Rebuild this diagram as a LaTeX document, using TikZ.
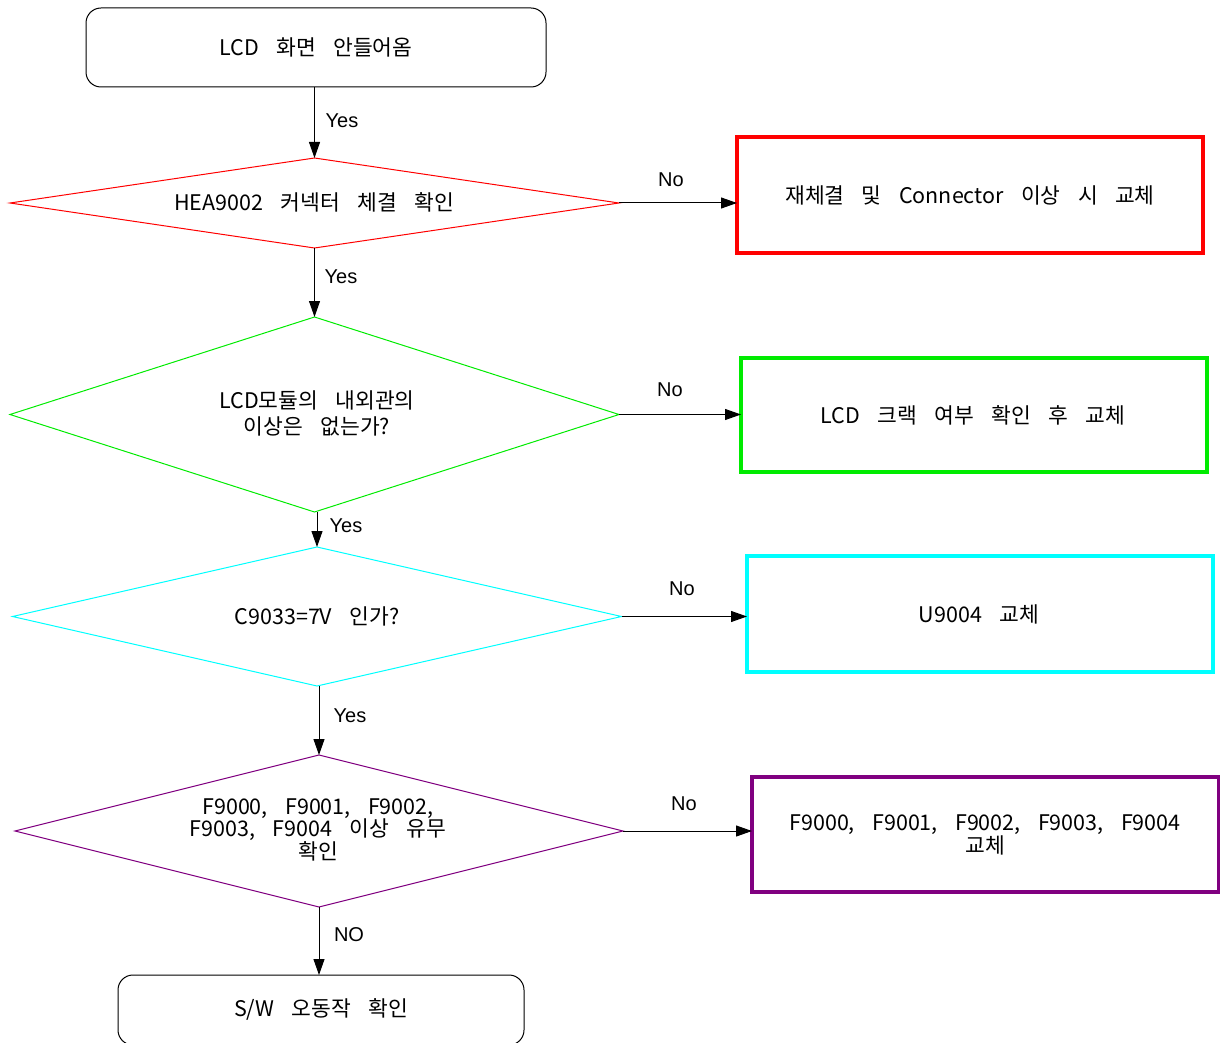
\documentclass[tikz,border=0pt]{standalone}
\usepackage{fontspec}
\setmainfont{Noto Sans CJK KR}[WordSpace=3.6]
\newfontfamily\labelfont{Liberation Sans}
\usetikzlibrary{shapes.geometric,arrows.meta}
\definecolor{cRed}{RGB}{255,0,0}
\definecolor{cGreen}{RGB}{0,235,0}
\definecolor{cCyan}{RGB}{0,255,255}
\definecolor{cPurple}{RGB}{128,0,128}
\begin{document}
\begin{tikzpicture}[x=1pt,y=-1pt,
  every node/.style={font=\fontsize{21.5}{24}\selectfont, inner sep=0pt, outer sep=0pt},
  term/.style={draw=black, line width=1pt, rounded corners=15pt},
  dia/.style={diamond, draw, line width=1pt},
  outbox/.style={draw, line width=3.5pt},
  txt/.style={align=center},
  lbl/.style={font=\labelfont\fontsize{20}{24}\selectfont},
  arr/.style={-{Triangle[length=16pt,width=11pt]}, line width=1pt, draw=black}
]
\useasboundingbox (0,0) rectangle (1220,1043);

% start
\node[term, minimum width=460pt, minimum height=79pt] (start) at (316,47.5) {};
\node[txt] (tstart) at (316,47) {LCD 화면 안들어옴};

% diamond 1
\node[dia, draw=cRed, minimum width=609pt, minimum height=90pt] (d1) at (314.5,203) {};
\node[txt] (t1) at (314,202) {HEA9002 커넥터 체결 확인};
\node[outbox, draw=cRed, minimum width=466pt, minimum height=116pt] (b1) at (970,195) {};
\node[txt] (tb1) at (970,195) {재체결 및 Connector 이상 시 교체};

% diamond 2
\node[dia, draw=cGreen, minimum width=609pt, minimum height=195pt] (d2) at (314.5,414.5) {};
\node[txt, font=\fontsize{21.5}{26}\selectfont] (t2) at (317,413) {LCD모듈의 내외관의\\이상은 없는가?};
\node[outbox, draw=cGreen, minimum width=466pt, minimum height=114pt] (b2) at (974,415) {};
\node[txt] (tb2) at (973,415) {LCD 크랙 여부 확인 후 교체};

% diamond 3
\node[dia, draw=cCyan, minimum width=609pt, minimum height=139pt] (d3) at (317,616.5) {};
\node[txt] (t3) at (317,616) {C9033=7V 인가?};
\node[outbox, draw=cCyan, minimum width=466pt, minimum height=116pt] (b3) at (980,614) {};
\node[txt] (tb3) at (979,614) {U9004 교체};

% diamond 4
\node[dia, draw=cPurple, minimum width=608pt, minimum height=152pt] (d4) at (319,831) {};
\node[txt, font=\fontsize{21.5}{21.5}\selectfont] (t4) at (318,830) {F9000, F9001, F9002,\\F9003, F9004 이상 유무\\확인};
\node[outbox, draw=cPurple, minimum width=467pt, minimum height=115pt] (b4) at (985.5,834.5) {};
\node[txt, font=\fontsize{21.5}{21.5}\selectfont] (tb4) at (985,835) {F9000, F9001, F9002, F9003, F9004\\교체};

% end
\node[term, minimum width=406pt, minimum height=70pt] (finish) at (321,1010) {};
\node[txt] (tfinish) at (321,1009) {S/W 오동작 확인};

% vertical connectors
\draw[arr] (start.south -| d1.north) -- (d1.north);
\draw[arr] (d1.south) -- (d2.north);
\draw[arr] (d3.north |- d2.south) -- (d3.north);
\draw[arr] (d4.north |- d3.south) -- (d4.north);
\draw[arr] (d4.south) -- (finish.north -| d4.south);

% horizontal connectors
\draw[arr] (d1.east) -- (b1.west |- d1.east);
\draw[arr] (d2.east) -- (b2.west |- d2.east);
\draw[arr] (d3.east) -- (b3.west |- d3.east);
\draw[arr] (d4.east) -- (b4.west |- d4.east);

% labels
\node[lbl] (ly1) at (342,121) {Yes};
\node[lbl] (ly2) at (341,277) {Yes};
\node[lbl] (ly3) at (346,526) {Yes};
\node[lbl] (ly4) at (350,716) {Yes};
\node[lbl] (lno5) at (349,935) {NO};
\node[lbl] (ln1) at (671,180) {No};
\node[lbl] (ln2) at (670,390) {No};
\node[lbl] (ln3) at (682,589) {No};
\node[lbl] (ln4) at (684,804) {No};
\end{tikzpicture}
\end{document}
